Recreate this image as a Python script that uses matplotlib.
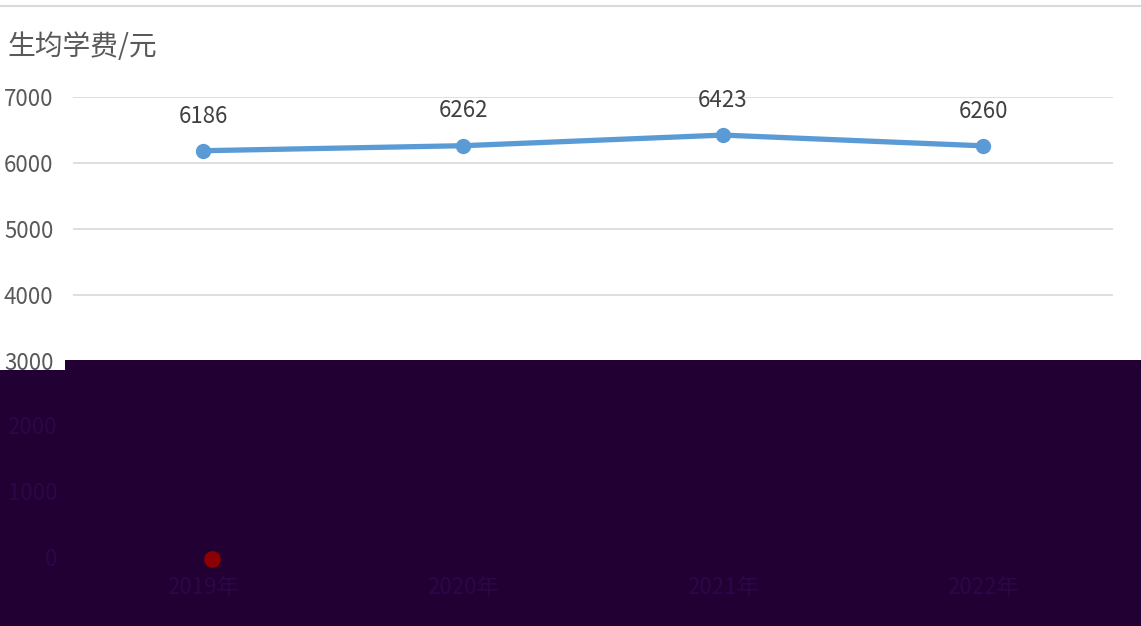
import matplotlib
matplotlib.use("Agg")
import matplotlib.pyplot as plt
from matplotlib.patches import Polygon
from matplotlib.lines import Line2D
from matplotlib.transforms import blended_transform_factory
import numpy as np

plt.rcParams["font.family"] = ["Noto Sans CJK SC", "DejaVu Sans"]

W, H = 1141, 626
BLUE = "#5b9bd5"; GRID = "#d9d9d9"; TXT = "#595959"; LBL = "#404040"
COVER = "#230033"; FAINT = "#2a0848"

# data
years = ["2019年", "2020年", "2021年", "2022年"]
fees = [6186, 6262, 6423, 6260]
yticks = [0, 1000, 2000, 3000, 4000, 5000, 6000, 7000]
hidden = [0, 1000, 2000]   # tick labels lying under the dark block

fig = plt.figure(figsize=(W / 100, H / 100), dpi=100)
ax = fig.add_axes([73 / W, (H - 559) / H, 1040 / W, 462 / H])
x = np.arange(len(years)) + 0.5
ax.plot(x, fees, color=BLUE, lw=3.8, marker="o", ms=10, solid_capstyle="round", zorder=3)
for xi, v in zip(x, fees):
    ax.annotate(f"{v}", (xi, v), xytext=(0, 25), textcoords="offset points",
                ha="center", va="center", fontsize=16, color=LBL)
ax.set_xlim(0, len(years))
ax.set_ylim(0, 7000)
ax.set_yticks(yticks)
ax.set_yticklabels(["" if t in hidden else str(t) for t in yticks], fontsize=16, color=TXT)
ax.set_xticks(x)
ax.set_xticklabels([""] * len(years))
ax.tick_params(length=0, pad=14)
ax.grid(axis="y", color=GRID, lw=1.2)
ax.set_axisbelow(True)
for s in ax.spines.values():
    s.set_visible(False)

fig.text(7 / W, 1 - 47 / H, "生均学费/元", fontsize=20, color=TXT, va="center", ha="left")
fig.add_artist(Line2D([0, 1], [1 - 6 / H] * 2, color=GRID, lw=1.5, transform=fig.transFigure))

# dark block covering the lower part of the picture
pts = [(0, 370), (65, 370), (65, 360), (W, 360), (W, H), (0, H)]
cover = Polygon([(px / W, 1 - py / H) for px, py in pts], closed=True,
                facecolor=COVER, edgecolor="none", transform=fig.transFigure, zorder=5)
fig.add_artist(cover)

# faint remnants visible through the block
ty = blended_transform_factory(fig.transFigure, ax.transData)
for t in hidden:
    fig.text(57 / W, t, str(t), transform=ty, ha="right", va="center",
             fontsize=16, color=FAINT, zorder=6)
tx = blended_transform_factory(ax.transData, fig.transFigure)
for xi, lab in zip(x, years):
    fig.text(xi, 1 - 588 / H, lab, transform=tx, ha="center", va="center",
             fontsize=16, color=FAINT, zorder=6)
fig.add_artist(Line2D([212 / W], [1 - 559 / H], marker="o", ms=11, color="#8b0000",
                      lw=0, transform=fig.transFigure, zorder=7))

fig.savefig("out.png", dpi=100, facecolor="white")
